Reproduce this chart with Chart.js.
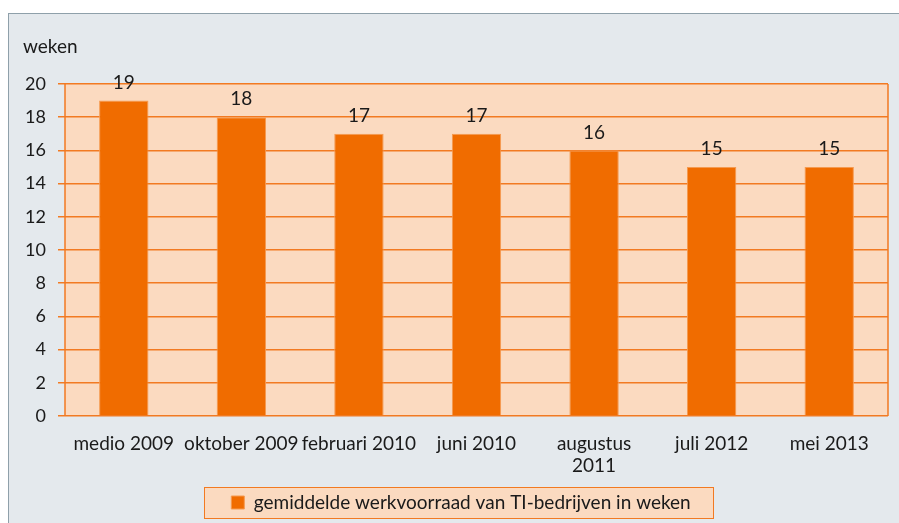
<!DOCTYPE html>
<html>
<head>
<meta charset="utf-8">
<script src="https://cdn.jsdelivr.net/npm/chart.js@4"></script>
<style>
  html, body { margin: 0; padding: 0; background: #ffffff; }
  #frame {
    position: absolute; left: 8px; top: 13px; width: 900px; height: 520px;
    background: #e4e9ed; border: 1px solid #8fa0aa; box-sizing: border-box;
  }
  #wrap { position: absolute; left: 0; top: 0; width: 899px; height: 523px; }
</style>
</head>
<body>
<div id="frame"></div>
<div id="wrap"><canvas id="myChart"></canvas></div>
<script>
'use strict'

const periodes = ['medio 2009', 'oktober 2009', 'februari 2010', 'juni 2010', ['augustus', '2011'], 'juli 2012', 'mei 2013'];
const werkvoorraad = [19, 18, 17, 17, 16, 15, 15];
const serieNaam = 'gemiddelde werkvoorraad van TI-bedrijven in weken';
const asTitel = 'weken';

const oranje = '#f06c00';
const lijnOranje = '#f27a22';
const vlakOranje = '#fbdac0';
const fontNaam = 'Lato, "Open Sans", sans-serif';
const legendaSchuif = 12;

// achtergrond en rand van het plotvlak
const plotVlak = {
  id: 'plotVlak',
  beforeDraw(chart) {
    const {ctx, chartArea: a} = chart;
    ctx.save();
    ctx.fillStyle = vlakOranje;
    ctx.fillRect(a.left, a.top, a.right - a.left, a.bottom - a.top);
    ctx.restore();
    // legenda iets naar rechts, zoals in het origineel
    const lg = chart.legend;
    if (lg && !lg._geschoven) {
      lg.left += 2 * legendaSchuif;
      lg._geschoven = true;
    }
    // legenda kader
    if (lg && lg.legendHitBoxes && lg.legendHitBoxes.length) {
      const hb = lg.legendHitBoxes[0];
      ctx.save();
      ctx.fillStyle = vlakOranje;
      ctx.strokeStyle = lijnOranje;
      ctx.lineWidth = 1;
      const x = Math.round(hb.left - 27 + legendaSchuif) + 0.5, y = Math.round(hb.top + hb.height / 2 - 16) + 0.5;
      const w = Math.round(hb.width + 50);
      ctx.fillRect(x, y, w, 31);
      ctx.strokeRect(x, y, w, 31);
      ctx.restore();
    }
  },
  afterDatasetsDraw(chart) {
    const {ctx, chartArea: a} = chart;
    ctx.save();
    ctx.strokeStyle = lijnOranje;
    ctx.lineWidth = 1.5;
    ctx.beginPath();
    ctx.moveTo(a.left, a.top);
    ctx.lineTo(a.left, a.bottom);
    ctx.moveTo(a.right, a.top);
    ctx.lineTo(a.right, a.bottom);
    ctx.stroke();
    // waarden boven de staven
    ctx.fillStyle = '#1a1a1a';
    ctx.font = '19px ' + fontNaam;
    ctx.textAlign = 'center';
    ctx.textBaseline = 'middle';
    chart.getDatasetMeta(0).data.forEach((bar, i) => {
      ctx.fillText(String(werkvoorraad[i]), bar.x, bar.y - 18);
    });
    // titel as
    ctx.textAlign = 'left';
    ctx.fillText(asTitel, 23, 47);
    ctx.restore();
  }
};

const DocumentReady = () => {
  const el = document.getElementById('myChart');
  new Chart(el, {
    type: 'bar',
    data: {
      labels: periodes,
      datasets: [{
        label: serieNaam,
        data: werkvoorraad,
        backgroundColor: oranje,
        borderColor: '#f59a50',
        borderWidth: 1,
        barPercentage: 0.42,
        categoryPercentage: 1
      }]
    },
    options: {
      responsive: true,
      maintainAspectRatio: false,
      animation: false,
      layout: {padding: {left: 10, right: 11, top: 84, bottom: 1}},
      plugins: {
        tooltip: {enabled: false},
        legend: {
          position: 'bottom',
          labels: {
            color: '#1a1a1a',
            font: {family: fontNaam, size: 19},
            boxWidth: 13,
            boxHeight: 13,
            padding: 6
          }
        }
      },
      scales: {
        x: {
          grid: {display: false},
          border: {display: false},
          ticks: {color: '#1a1a1a', font: {family: fontNaam, size: 19}, maxRotation: 0, autoSkip: false, padding: 8},
          afterFit(scale) { scale.height = 71; }
        },
        y: {
          min: 0,
          max: 20,
          ticks: {stepSize: 2, color: '#1a1a1a', font: {family: fontNaam, size: 18}, padding: 12},
          grid: {color: lijnOranje, lineWidth: 1.5, tickLength: 7, drawTicks: true},
          border: {display: false},
          afterFit(scale) { scale.width = 55; }
        }
      }
    },
    plugins: [plotVlak]
  });
};

document.addEventListener('DOMContentLoaded', DocumentReady);
</script>
</body>
</html>
